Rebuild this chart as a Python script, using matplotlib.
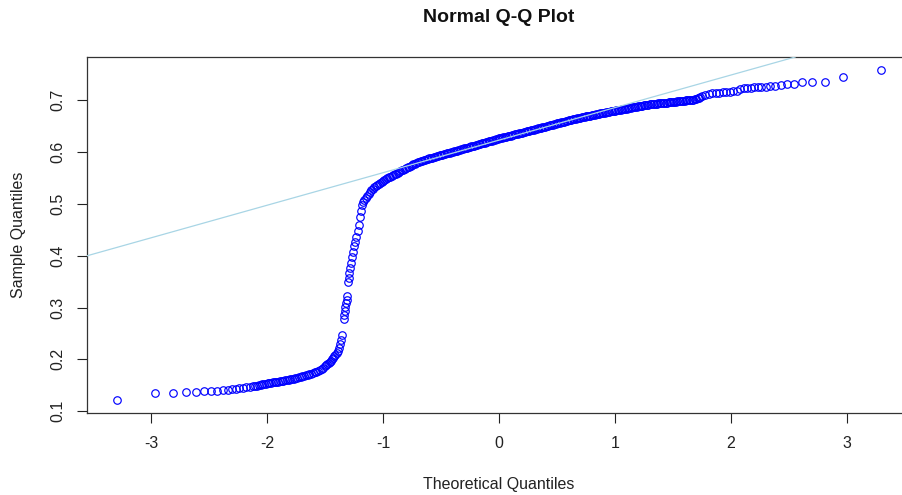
"""
Normal Q-Q plot of the sample, drawn in the style of R's qqnorm + qqline.
"""
import matplotlib
matplotlib.use("Agg")
import matplotlib.pyplot as plt

# ============================================================================
# Data
# ============================================================================

# theoretical (normal) quantiles of the plotted points
theoretical = [
    # lower tail
    -3.29, -2.97, -2.81, -2.70, -2.61, -2.54, -2.48, -2.43, -2.38, -2.34,
    -2.30, -2.27, -2.24, -2.21, -2.18, -2.15, -2.12,
    -2.100, -2.085, -2.070, -2.055, -2.040, -2.025, -2.010, -1.995, -1.980, -1.965,
    -1.950, -1.935, -1.920, -1.905, -1.890, -1.875, -1.860, -1.845, -1.830, -1.815,
    -1.800, -1.785, -1.770, -1.755, -1.740, -1.725, -1.710, -1.695, -1.680, -1.665,
    -1.650, -1.635, -1.620, -1.605, -1.590, -1.575, -1.560, -1.545, -1.530, -1.515,
    -1.500, -1.490, -1.480, -1.470, -1.460, -1.450, -1.440, -1.430, -1.420, -1.410,
    -1.400, -1.390, -1.380, -1.370, -1.360, -1.355,
    # steep jump
    -1.340, -1.335, -1.330, -1.325, -1.320, -1.315, -1.310,
    -1.300, -1.295, -1.290, -1.285, -1.280, -1.270, -1.260, -1.250, -1.240, -1.230,
    -1.220, -1.210, -1.200, -1.190, -1.180, -1.170, -1.160,
    # dense middle
    -1.1500, -1.1375, -1.1250, -1.1125, -1.1000, -1.0875, -1.0750, -1.0625,
    -1.0500, -1.0375, -1.0250, -1.0125, -1.0000, -0.9875, -0.9750, -0.9625,
    -0.9500, -0.9375, -0.9250, -0.9125, -0.9000, -0.8875, -0.8750, -0.8625,
    -0.8500, -0.8375, -0.8250, -0.8125, -0.8000, -0.7875, -0.7750, -0.7625,
    -0.7500, -0.7375, -0.7250, -0.7125, -0.7000, -0.6875, -0.6750, -0.6625,
    -0.6500, -0.6375, -0.6250, -0.6125, -0.6000, -0.5875, -0.5750, -0.5625,
    -0.5500, -0.5375, -0.5250, -0.5125, -0.5000, -0.4875, -0.4750, -0.4625,
    -0.4500, -0.4375, -0.4250, -0.4125, -0.4000, -0.3875, -0.3750, -0.3625,
    -0.3500, -0.3375, -0.3250, -0.3125, -0.3000, -0.2875, -0.2750, -0.2625,
    -0.2500, -0.2375, -0.2250, -0.2125, -0.2000, -0.1875, -0.1750, -0.1625,
    -0.1500, -0.1375, -0.1250, -0.1125, -0.1000, -0.0875, -0.0750, -0.0625,
    -0.0500, -0.0375, -0.0250, -0.0125, 0.0000, 0.0125, 0.0250, 0.0375,
    0.0500, 0.0625, 0.0750, 0.0875, 0.1000, 0.1125, 0.1250, 0.1375,
    0.1500, 0.1625, 0.1750, 0.1875, 0.2000, 0.2125, 0.2250, 0.2375,
    0.2500, 0.2625, 0.2750, 0.2875, 0.3000, 0.3125, 0.3250, 0.3375,
    0.3500, 0.3625, 0.3750, 0.3875, 0.4000, 0.4125, 0.4250, 0.4375,
    0.4500, 0.4625, 0.4750, 0.4875, 0.5000, 0.5125, 0.5250, 0.5375,
    0.5500, 0.5625, 0.5750, 0.5875, 0.6000, 0.6125, 0.6250, 0.6375,
    0.6500, 0.6625, 0.6750, 0.6875, 0.7000, 0.7125, 0.7250, 0.7375,
    0.7500, 0.7625, 0.7750, 0.7875, 0.8000, 0.8125, 0.8250, 0.8375,
    0.8500, 0.8625, 0.8750, 0.8875, 0.9000, 0.9125, 0.9250, 0.9375,
    0.9500, 0.9625, 0.9750, 0.9875, 1.0000, 1.0125, 1.0250, 1.0375,
    1.0500, 1.0625, 1.0750, 1.0875, 1.1000, 1.1125, 1.1250, 1.1375,
    1.1500, 1.1625, 1.1750, 1.1875, 1.2000, 1.2125, 1.2250, 1.2375,
    1.2500, 1.2625, 1.2750, 1.2875, 1.3000, 1.3125, 1.3250, 1.3375,
    1.3500, 1.3625, 1.3750, 1.3875, 1.4000, 1.4125, 1.4250, 1.4375,
    1.4500, 1.4625, 1.4750, 1.4875, 1.5000, 1.5125, 1.5250, 1.5375,
    1.5500, 1.5625, 1.5750, 1.5875, 1.6000, 1.6125, 1.6250, 1.6375,
    1.6500, 1.6625, 1.6750, 1.6875, 1.7000, 1.7125, 1.7250, 1.7375,
    1.7500,
    # upper tail
    1.78, 1.81, 1.84, 1.87, 1.90, 1.93, 1.96, 1.99, 2.02, 2.05,
    2.08, 2.11, 2.14, 2.17, 2.20, 2.23, 2.26, 2.30, 2.34, 2.38,
    2.43, 2.48, 2.54, 2.61, 2.70, 2.81, 2.97, 3.29,
]

# sample quantiles (sorted sample values), same order as above
sample = [
    0.122, 0.136, 0.136, 0.138, 0.138, 0.139, 0.139, 0.140, 0.141, 0.141,
    0.142, 0.143, 0.144, 0.145, 0.146, 0.147, 0.148,
    0.1485, 0.1493, 0.1501, 0.1510, 0.1518, 0.1526, 0.1534, 0.1541, 0.1547, 0.1552,
    0.1557, 0.1562, 0.1567, 0.1572, 0.1578, 0.1584, 0.1590, 0.1596, 0.1602, 0.1608,
    0.1615, 0.1623, 0.1631, 0.1639, 0.1647, 0.1656, 0.1664, 0.1673, 0.1683, 0.1693,
    0.1703, 0.1714, 0.1725, 0.1736, 0.1748, 0.1761, 0.1775, 0.1795, 0.1815, 0.1840,
    0.1870, 0.1890, 0.1910, 0.1930, 0.1950, 0.1975, 0.2000, 0.2030, 0.2060, 0.2090,
    0.2120, 0.2170, 0.2220, 0.2290, 0.2380, 0.2480,
    0.278, 0.286, 0.294, 0.302, 0.309, 0.315, 0.322,
    0.350, 0.357, 0.366, 0.376, 0.386, 0.397, 0.408, 0.418, 0.427, 0.436,
    0.448, 0.460, 0.474, 0.487, 0.497, 0.503, 0.508,
    0.5120, 0.5160, 0.5200, 0.5235, 0.5270, 0.5295, 0.5320, 0.5345,
    0.5370, 0.5390, 0.5410, 0.5430, 0.5450, 0.5465, 0.5480, 0.5495,
    0.5510, 0.5525, 0.5540, 0.5555, 0.5570, 0.5585, 0.5600, 0.5615,
    0.5630, 0.5645, 0.5660, 0.5675, 0.5690, 0.5705, 0.5720, 0.5735,
    0.5750, 0.5763, 0.5776, 0.5788, 0.5800, 0.5811, 0.5822, 0.5832,
    0.5842, 0.5851, 0.5860, 0.5869, 0.5878, 0.5886, 0.5894, 0.5902,
    0.5910, 0.5918, 0.5926, 0.5934, 0.5942, 0.5950, 0.5958, 0.5966,
    0.5974, 0.5982, 0.5990, 0.5998, 0.6006, 0.6014, 0.6022, 0.6030,
    0.6038, 0.6046, 0.6054, 0.6062, 0.6070, 0.6078, 0.6086, 0.6094,
    0.6102, 0.6110, 0.6118, 0.6126, 0.6134, 0.6142, 0.6150, 0.6158,
    0.6166, 0.6174, 0.6182, 0.6190, 0.6198, 0.6206, 0.6214, 0.6222,
    0.6230, 0.6238, 0.6246, 0.6254, 0.6262, 0.6267, 0.6275, 0.6282,
    0.6289, 0.6296, 0.6304, 0.6311, 0.6318, 0.6325, 0.6333, 0.6340,
    0.6347, 0.6355, 0.6362, 0.6369, 0.6377, 0.6384, 0.6391, 0.6398,
    0.6406, 0.6413, 0.6420, 0.6428, 0.6435, 0.6442, 0.6449, 0.6457,
    0.6464, 0.6471, 0.6479, 0.6486, 0.6493, 0.6500, 0.6508, 0.6515,
    0.6522, 0.6530, 0.6537, 0.6544, 0.6552, 0.6559, 0.6566, 0.6573,
    0.6581, 0.6588, 0.6595, 0.6603, 0.6610, 0.6617, 0.6624, 0.6631,
    0.6637, 0.6644, 0.6650, 0.6657, 0.6663, 0.6669, 0.6675, 0.6681,
    0.6687, 0.6693, 0.6699, 0.6705, 0.6711, 0.6717, 0.6723, 0.6729,
    0.6735, 0.6741, 0.6747, 0.6752, 0.6758, 0.6763, 0.6769, 0.6774,
    0.6780, 0.6785, 0.6790, 0.6795, 0.6800, 0.6805, 0.6810, 0.6815,
    0.6820, 0.6825, 0.6830, 0.6835, 0.6840, 0.6845, 0.6850, 0.6855,
    0.6860, 0.6865, 0.6870, 0.6875, 0.6880, 0.6885, 0.6890, 0.6895,
    0.6900, 0.6905, 0.6910, 0.6915, 0.6920, 0.6923, 0.6926, 0.6929,
    0.6932, 0.6935, 0.6938, 0.6941, 0.6944, 0.6947, 0.6950, 0.6953,
    0.6956, 0.6959, 0.6962, 0.6965, 0.6968, 0.6971, 0.6974, 0.6977,
    0.6980, 0.6983, 0.6986, 0.6989, 0.6992, 0.6995, 0.6998, 0.7001,
    0.7004, 0.7008, 0.7013, 0.7020, 0.7030, 0.7040, 0.7050, 0.7065,
    0.7080,
    0.711, 0.712, 0.713, 0.713, 0.714, 0.715, 0.716, 0.716, 0.717, 0.718,
    0.721, 0.723, 0.724, 0.724, 0.725, 0.725, 0.725, 0.726, 0.727, 0.728,
    0.730, 0.731, 0.732, 0.735, 0.736, 0.736, 0.744, 0.758,
]
assert len(theoretical) == len(sample)

# reference line through the quartiles (qqline)
qq_intercept = 0.623
qq_slope = 0.0628

x_ticks = [-3, -2, -1, 0, 1, 2, 3]
y_ticks = [0.1, 0.2, 0.3, 0.4, 0.5, 0.6, 0.7]

# ============================================================================
# Plotting
# ============================================================================

plt.rcParams['font.family'] = ['Liberation Sans', 'DejaVu Sans']
plt.rcParams['axes.unicode_minus'] = False

W, H = 902, 495
fig = plt.figure(figsize=(W / 100, H / 100), dpi=100)
# plot box in pixels: left 87, top 57, bottom 413, right 911 (cropped by the image)
ax = fig.add_axes([87 / W, (H - 413) / H, (911 - 87) / W, (413 - 57) / H])

ax.plot(theoretical, sample, linestyle='none', marker='o', markersize=5.4,
        markerfacecolor='none', markeredgecolor='#0000ff',
        markeredgewidth=0.85, zorder=2)
ax.axline((0, qq_intercept), slope=qq_slope, color='#a8d5e5', lw=0.9, zorder=3)

ax.set_xlim(-3.553, 3.553)
ax.set_ylim(0.0966, 0.7834)
ax.set_xticks(x_ticks)
ax.set_yticks(y_ticks)
ax.set_xticklabels([str(t) for t in x_ticks])
ax.set_yticklabels([str(t) for t in y_ticks], rotation=90, va='center')
ax.tick_params(axis='both', direction='out', length=7.2, width=0.8,
               color='#222222', labelsize=11.5, labelcolor='#222222')
ax.tick_params(axis='x', pad=9)
ax.tick_params(axis='y', pad=8.5)
for side in ['left', 'bottom', 'top', 'right']:
    ax.spines[side].set_color('#333333')
    ax.spines[side].set_linewidth(0.9)

# titles placed like R's plot margins
fig.text(499 / W, 1 - 18 / H, 'Normal Q-Q Plot', ha='center', va='center',
         fontsize=14, fontweight='bold', color='#111111')
fig.text(499 / W, 1 - 484 / H, 'Theoretical Quantiles', ha='center',
         va='center', fontsize=11.5, color='#222222')
fig.text(19 / W, 1 - 235 / H, 'Sample Quantiles', ha='center', va='center',
         rotation=90, fontsize=11.5, color='#222222')

fig.savefig('out.png', dpi=100)
